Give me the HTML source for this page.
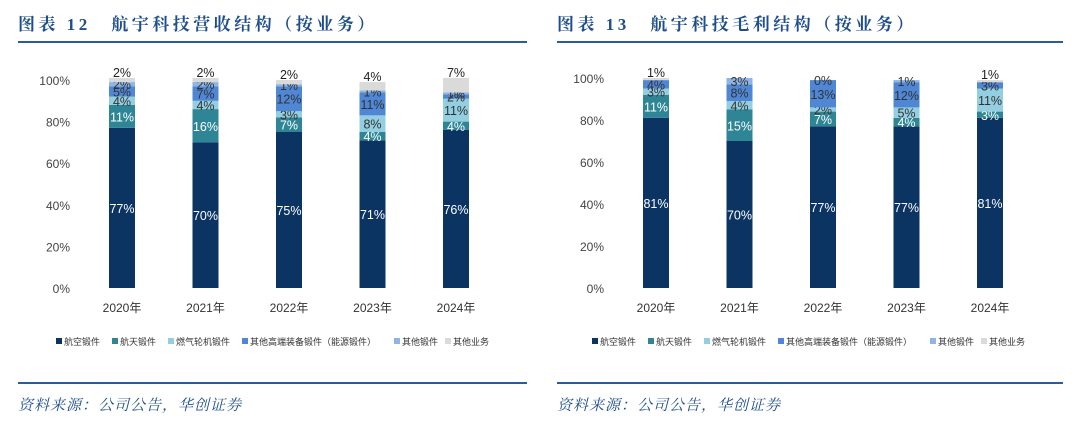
<!DOCTYPE html>
<html><head><meta charset="utf-8"><style>
body{margin:0;background:#fff;width:1080px;height:426px;overflow:hidden;position:relative;font-family:"Liberation Sans","Noto Sans CJK SC",sans-serif}
.title{position:absolute;top:10px;font:bold 17px "Liberation Serif","Noto Serif CJK SC",serif;color:#1f4e8c;letter-spacing:3.5px}
.hr{position:absolute;height:2px;background:#2a5b9a}
.src{position:absolute;top:394px;font:italic 15px "Liberation Serif","Noto Serif CJK SC",serif;color:#1f4e8c;letter-spacing:1px}
svg{position:absolute;left:0;top:0}
</style></head><body>
<div class="title" style="left:18px">图表 12　航宇科技营收结构（按业务）</div>
<div class="title" style="left:557px">图表 13　航宇科技毛利结构（按业务）</div>
<div class="hr" style="left:18px;top:41px;width:509px"></div>
<div class="hr" style="left:557px;top:41px;width:506px"></div>
<div class="hr" style="left:18px;top:382px;width:509px"></div>
<div class="hr" style="left:557px;top:382px;width:506px"></div>
<div class="src" style="left:18px">资料来源：公司公告，华创证券</div>
<div class="src" style="left:557px">资料来源：公司公告，华创证券</div>
<svg id="chart" width="1080" height="426"></svg>
<script>
const categories=["2020年","2021年","2022年","2023年","2024年"];
const seriesNames=["航空锻件","航天锻件","燃气轮机锻件","其他高端装备锻件（能源锻件）","其他锻件","其他业务"];
const revAero=[77,70,75,71,76];
const revSpace=[11,16,7,4,4];
const revGas=[4,4,3,8,11];
const revEnergy=[5,7,12,11,2];
const revOtherForg=[2,2,1,1,1];
const revOtherBiz=[2,2,2,4,7];
const gpAero=[81,70,77,77,81];
const gpSpace=[11,15,7,4,3];
const gpGas=[3,4,2,5,11];
const gpEnergy=[4,8,13,12,3];
const gpOtherForg=[0,3,0,1,0];
const gpOtherBiz=[1,0,0,0,1];
const yTicks=[0,20,40,60,80,100];
const colors=["#0b3462","#2e8596","#93cfe0","#4f87d5","#8eb5e4","#dadada"];
const labelColors=["#fff","#fff","#333","#333","#333","#333"];
const svg=document.getElementById('chart');
const NS="http://www.w3.org/2000/svg";
function mk(t,a){const e=document.createElementNS(NS,t);for(const k in a)e.setAttribute(k,a[k]);svg.appendChild(e);return e;}
function draw(prefix,x0,step,y0,y100,axisX,series,legendX){
  const y=v=>y0-(y0-y100)*v/100;
  const x=i=>x0+i*step;
  yTicks.forEach(t=>{const e=mk('text',{x:axisX,y:y(t)+5,'text-anchor':'end','font-size':12,fill:'#444'});e.textContent=t+'%';
    
    });
  categories.forEach((c,i)=>{
    let acc=0;
    series.forEach((s,k)=>{
      const v=s[i];
      const r=mk('rect',{x:x(i)-13,y:y(acc+v),width:26,height:Math.max(0,y(acc)-y(acc+v)),fill:colors[k]});
      
      
      if(!(k===4&&v===0&&prefix==='gp'&&i!==2) && !(k===5&&v===0)){
        const ty=k===5?y(acc+v)-1:(y(acc)+y(acc+v))/2+5;
        const t=mk('text',{x:x(i),y:ty,'text-anchor':'middle','font-size':12.5,fill:k===5?'#222':labelColors[k]});
        t.textContent=v+'%';
        
        
      }
      acc+=v;
    });
    const l=mk('text',{x:x(i),y:y0+24,'text-anchor':'middle','font-size':12,fill:'#333'});l.textContent=c;
    
    
  });
  const offs=[0,56,112,186,338,389];
  seriesNames.forEach((n,k)=>{
    mk('rect',{x:legendX+offs[k],y:338,width:6,height:6,fill:colors[k]});
    const t=mk('text',{x:legendX+offs[k]+8,y:345,'font-size':9,fill:'#333'});t.textContent=n;
    
    
  });
}
draw('rev',122,83.5,288,80,70,[revAero,revSpace,revGas,revEnergy,revOtherForg,revOtherBiz],56);
draw('gp',656,83.5,288,78,604,[gpAero,gpSpace,gpGas,gpEnergy,gpOtherForg,gpOtherBiz],592);
</script>
</body></html>
